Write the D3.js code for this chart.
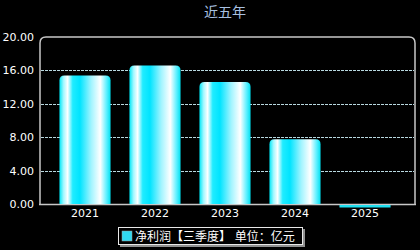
<!DOCTYPE html>
<html lang="zh">
<head>
  <meta charset="utf-8">
  <title>近五年</title>
  <script src="https://d3js.org/d3.v7.min.js"></script>
  <style>
  body { margin: 0; background: #000; }
  text { font-family: "DejaVu Sans", "Noto Sans CJK SC", sans-serif; }
  .tick-label { fill: #fff; font-size: 11px; }
  .grid { stroke: #b8d8e0; stroke-width: 1; stroke-dasharray: 3,1; }
  </style>
</head>
<body>
<script>

// Chart data
var years = ["2021", "2022", "2023", "2024", "2025"];
var profit = [15.4, 16.6, 14.6, 7.75, -0.3];
var yTicks = [0, 4, 8, 12, 16, 20];
var title = "近五年";
var legendLabel = "净利润【三季度】 单位：亿元";

var width = 420, height = 250;
var plotLeft = 40, plotRight = 415, plotTop = 37, plotBottom = 204;

var svg = d3.select("body").append("svg")
  .attr("width", width)
  .attr("height", height)
  .style("display", "block")
  .style("background", "#000");

var y = d3.scaleLinear().domain([0, 20]).range([plotBottom, plotTop]);
var x = d3.scaleBand().domain(years).range([50, 400])
  .paddingInner(0.27).paddingOuter(0.135);

// bar gradient
var defs = svg.append("defs");
var grad = defs.append("linearGradient").attr("id", "barGrad")
  .attr("x1", "0").attr("x2", "1").attr("y1", "0").attr("y2", "0");
[[0, "#00e8f8"], [0.08, "#a0f8ff"], [0.16, "#ffffff"], [0.26, "#20ecff"],
 [0.4, "#00e4ff"], [0.62, "#a0f4ff"], [0.8, "#ffffff"], [0.92, "#60f0ff"], [1, "#00e0f0"]]
  .forEach(function(s) {
    grad.append("stop").attr("offset", s[0]).attr("stop-color", s[1]);
  });

// title
svg.append("text")
  .attr("x", 225).attr("y", 17)
  .attr("text-anchor", "middle")
  .attr("fill", "#a8c0e0")
  .style("font-size", "14px")
  .text(title);

// grid lines
svg.selectAll(".grid").data(yTicks.filter(function(d) { return d > 0 && d < 20; }))
  .enter().append("line")
  .attr("class", "grid")
  .attr("x1", plotLeft + 1).attr("x2", plotRight - 1)
  .attr("y1", function(d) { return Math.round(y(d)) + 0.5; })
  .attr("y2", function(d) { return Math.round(y(d)) + 0.5; });

// frame with rounded top corners
var r = 6;
svg.append("path")
  .attr("fill", "none")
  .attr("stroke", "#c8c8c8")
  .attr("stroke-width", 1.5)
  .attr("d", "M" + plotLeft + "," + plotBottom + " L" + plotLeft + "," + (plotTop + r) +
    " Q" + plotLeft + "," + plotTop + " " + (plotLeft + r) + "," + plotTop +
    " L" + (plotRight - r) + "," + plotTop +
    " Q" + plotRight + "," + plotTop + " " + plotRight + "," + (plotTop + r) +
    " L" + plotRight + "," + plotBottom);

// y tick labels
svg.selectAll(".ylab").data(yTicks).enter().append("text")
  .attr("class", "tick-label")
  .attr("x", 34)
  .attr("y", function(d) { return y(d) + 4; })
  .attr("text-anchor", "end")
  .text(function(d) { return d.toFixed(2); });

// x axis line
svg.append("line")
  .attr("x1", plotLeft - 1).attr("x2", plotRight + 1)
  .attr("y1", plotBottom + 0.5).attr("y2", plotBottom + 0.5)
  .attr("stroke", "#c8c8c8").attr("stroke-width", 1.5);

// bars
function barPath(d, i) {
  var x0 = x(years[i]), w = x.bandwidth();
  var y0 = y(Math.max(0, d)), y1 = y(Math.min(0, d));
  var h = y1 - y0;
  var rr = Math.min(5, h / 2);
  if (d < 0) {
    // negative bar hangs just below the axis line
    return "M" + x0 + "," + (y0 + 1) + "h" + w + "v" + h + "h" + (-w) + "Z";
  }
  return "M" + x0 + "," + y1 + " V" + (y0 + rr) +
    " Q" + x0 + "," + y0 + " " + (x0 + rr) + "," + y0 +
    " H" + (x0 + w - rr) +
    " Q" + (x0 + w) + "," + y0 + " " + (x0 + w) + "," + (y0 + rr) +
    " V" + y1 + "Z";
}

svg.selectAll(".bar").data(profit).enter().append("path")
  .attr("class", "bar")
  .attr("fill", function(d) { return d < 0 ? "#20e0f0" : "url(#barGrad)"; })
  .attr("d", barPath);

// x labels
svg.selectAll(".xlab").data(years).enter().append("text")
  .attr("class", "tick-label")
  .attr("x", function(d) { return x(d) + x.bandwidth() / 2; })
  .attr("y", 217)
  .attr("text-anchor", "middle")
  .text(function(d) { return d; });

// legend
var lg = svg.append("g").attr("transform", "translate(118,227)");
lg.append("rect").attr("x", 2).attr("y", 2).attr("width", 185).attr("height", 18).attr("fill", "#909090");
lg.append("rect").attr("x", 0.5).attr("y", 0.5).attr("width", 184).attr("height", 17)
  .attr("fill", "#000").attr("stroke", "#e8e8e8").attr("stroke-width", 1);
lg.append("rect").attr("x", 4).attr("y", 4).attr("width", 10).attr("height", 10)
  .attr("fill", "#30d8f0").attr("stroke", "#a0a0a0").attr("stroke-width", 0.5);
lg.append("text").attr("x", 17).attr("y", 14)
  .attr("fill", "#fff").style("font-size", "12px")
  .text(legendLabel);

</script>
</body>
</html>
